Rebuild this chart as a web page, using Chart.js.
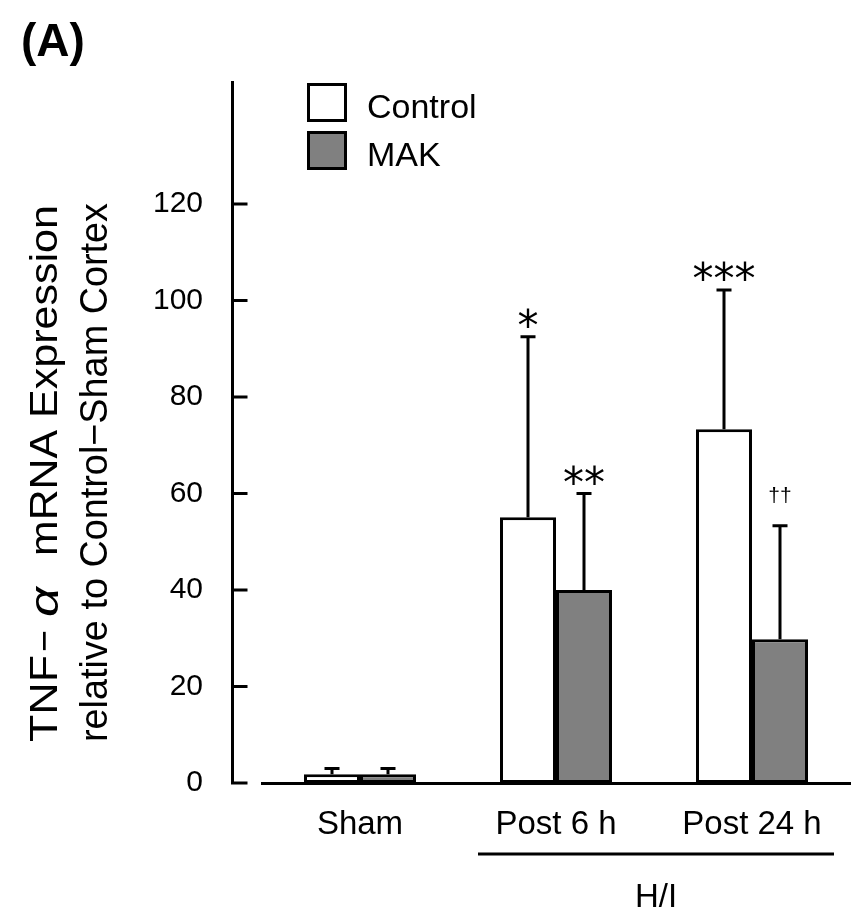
<!DOCTYPE html>
<html>
<head>
<meta charset="utf-8">
<script src="https://cdn.jsdelivr.net/npm/chart.js@4.4.1/dist/chart.umd.min.js"></script>
<style>
    html, body { margin: 0; padding: 0; background: #fff; }
    canvas { display: block; }
</style>
</head>
<body>
<canvas id="tnfChart" width="857" height="909"></canvas>
<script>
const categories = ['Sham', 'Post 6 h', 'Post 24 h']
const controlMeans = [1.8, 55.1, 73.3]
const controlErrors = [1.2, 37.4, 28.9]
const makMeans = [1.8, 40.0, 29.8]
const makErrors = [1.2, 20.0, 23.5]
const controlMarks = ['', '*', '***']
const makMarks = ['', '**', '††']
const yTicks = [0, 20, 40, 60, 80, 100, 120]

const FONT = '"Liberation Sans", Arial, sans-serif'

// text squeezed or widened to an exact run length
function drawFitted(ctx, text, start, width, font) {
    ctx.font = font
    const w = ctx.measureText(text).width
    ctx.save()
    ctx.translate(start, 0)
    ctx.scale(width / w, 1)
    ctx.fillText(text, 0, 0)
    ctx.restore()
}

// error bars, significance marks, axis, legend and labels
const decorations = {
    id: 'decorations',
    afterDatasetsDraw(chart) {
        const ctx = chart.ctx
        const y = chart.scales.y
        ctx.save()
        ctx.strokeStyle = '#000'
        ctx.fillStyle = '#000'
        ctx.lineWidth = 3
        chart.data.datasets.forEach((ds, di) => {
            const meta = chart.getDatasetMeta(di)
            meta.data.forEach((bar, i) => {
                const top = y.getPixelForValue(ds.data[i] + ds.errors[i])
                const base = y.getPixelForValue(ds.data[i])
                ctx.beginPath()
                ctx.moveTo(bar.x, base)
                ctx.lineTo(bar.x, top)
                ctx.moveTo(bar.x - 7.5, top)
                ctx.lineTo(bar.x + 7.5, top)
                ctx.stroke()
                const mark = ds.marks[i]
                if (mark) {
                    ctx.textAlign = 'center'
                    ctx.textBaseline = 'alphabetic'
                    if (mark.includes('*')) {
                        ctx.font = '42px "DejaVu Sans", sans-serif'
                        ctx.fillText(mark, bar.x, top + 3)
                    } else {
                        ctx.font = '21px ' + FONT
                        ctx.fillText(mark, bar.x, top - 24)
                    }
                }
            })
        })
        ctx.restore()
    },
    afterDraw(chart) {
        const ctx = chart.ctx
        const y = chart.scales.y
        const x = chart.scales.x
        const area = chart.chartArea
        ctx.save()
        ctx.strokeStyle = '#000'
        ctx.fillStyle = '#000'
        ctx.lineWidth = 3

        // y axis, set off from the bars
        const axisX = area.left - 29.5
        ctx.beginPath()
        ctx.moveTo(axisX, area.top)
        ctx.lineTo(axisX, y.getPixelForValue(0))
        yTicks.forEach((v) => {
            const py = y.getPixelForValue(v)
            ctx.moveTo(axisX - 1.5, py)
            ctx.lineTo(axisX + 15, py)
        })
        ctx.stroke()

        // legend
        chart.data.datasets.forEach((ds, i) => {
            const by = 84.5 + i * 48
            ctx.fillStyle = ds.backgroundColor
            ctx.fillRect(308.5, by, 37, 36)
            ctx.strokeRect(308.5, by, 37, 36)
            ctx.fillStyle = '#000'
            ctx.font = '34px ' + FONT
            ctx.textAlign = 'left'
            ctx.textBaseline = 'alphabetic'
            ctx.fillText(ds.label, 367, by + 33)
        })

        // H/I bracket under the two post groups
        const lineY = 854
        ctx.beginPath()
        ctx.moveTo(x.getPixelForValue(1) - 78, lineY)
        ctx.lineTo(x.getPixelForValue(2) + 82, lineY)
        ctx.stroke()
        ctx.font = '33px ' + FONT
        ctx.textAlign = 'center'
        ctx.textBaseline = 'alphabetic'
        ctx.fillText('H/I', (x.getPixelForValue(1) + x.getPixelForValue(2)) / 2 + 2, 907)

        // y title, both lines running up from y = 742
        const plain = '38px ' + FONT
        ctx.textAlign = 'left'
        ctx.textBaseline = 'middle'
        ctx.save()
        ctx.translate(47, 742)
        ctx.rotate(-Math.PI / 2)
        drawFitted(ctx, 'TNF', 0, 87, plain)
        drawFitted(ctx, '\u2212', 90, 22, plain)
        drawFitted(ctx, '\u03b1', 125, 30, 'italic 40px ' + FONT)
        drawFitted(ctx, 'mRNA', 186, 126, plain)
        drawFitted(ctx, 'Expression', 324, 213, plain)
        ctx.restore()
        ctx.save()
        ctx.translate(97, 742)
        ctx.rotate(-Math.PI / 2)
        drawFitted(ctx, 'relative to Control\u2212Sham Cortex', 0, 539, plain)
        ctx.restore()

        // panel letter
        ctx.font = 'bold 46px ' + FONT
        ctx.textAlign = 'left'
        ctx.textBaseline = 'alphabetic'
        ctx.fillText('(A)', 21, 56)
        ctx.restore()
    },
}

const ctx = document.getElementById('tnfChart').getContext('2d')
const chart = new Chart(ctx, {
    type: 'bar',
    data: {
        labels: categories,
        datasets: [
            {
                label: 'Control',
                data: controlMeans,
                errors: controlErrors,
                marks: controlMarks,
                backgroundColor: '#ffffff',
                borderColor: '#000000',
                borderWidth: 3,
                borderSkipped: false,
            },
            {
                label: 'MAK',
                data: makMeans,
                errors: makErrors,
                marks: makMarks,
                backgroundColor: '#808080',
                borderColor: '#000000',
                borderWidth: 3,
                borderSkipped: false,
            },
        ],
    },
    options: {
        responsive: false,
        animation: false,
        devicePixelRatio: 1,
        layout: { padding: { left: 0, top: 81, right: 7, bottom: 0 } },
        categoryPercentage: 112 / 196,
        barPercentage: 1.0,
        plugins: {
            legend: { display: false },
            tooltip: { enabled: false },
        },
        scales: {
            x: {
                grid: { display: true, drawOnChartArea: false, drawTicks: false },
                border: { display: true, color: '#000', width: 3 },
                ticks: {
                    color: '#000',
                    padding: 22,
                    font: { family: FONT, size: 33 },
                },
                afterFit(scale) {
                    scale.height = 126
                },
            },
            y: {
                min: 0,
                max: 145.5,
                grid: { display: false, drawTicks: false },
                border: { display: false },
                ticks: {
                    stepSize: 20,
                    color: '#000',
                    padding: 59,
                    font: { family: FONT, size: 30 },
                },
                afterBuildTicks(scale) {
                    scale.ticks = yTicks.map((v) => ({ value: v }))
                },
                afterFit(scale) {
                    scale.width = 262
                },
            },
        },
    },
    plugins: [decorations],
})
</script>
</body>
</html>
